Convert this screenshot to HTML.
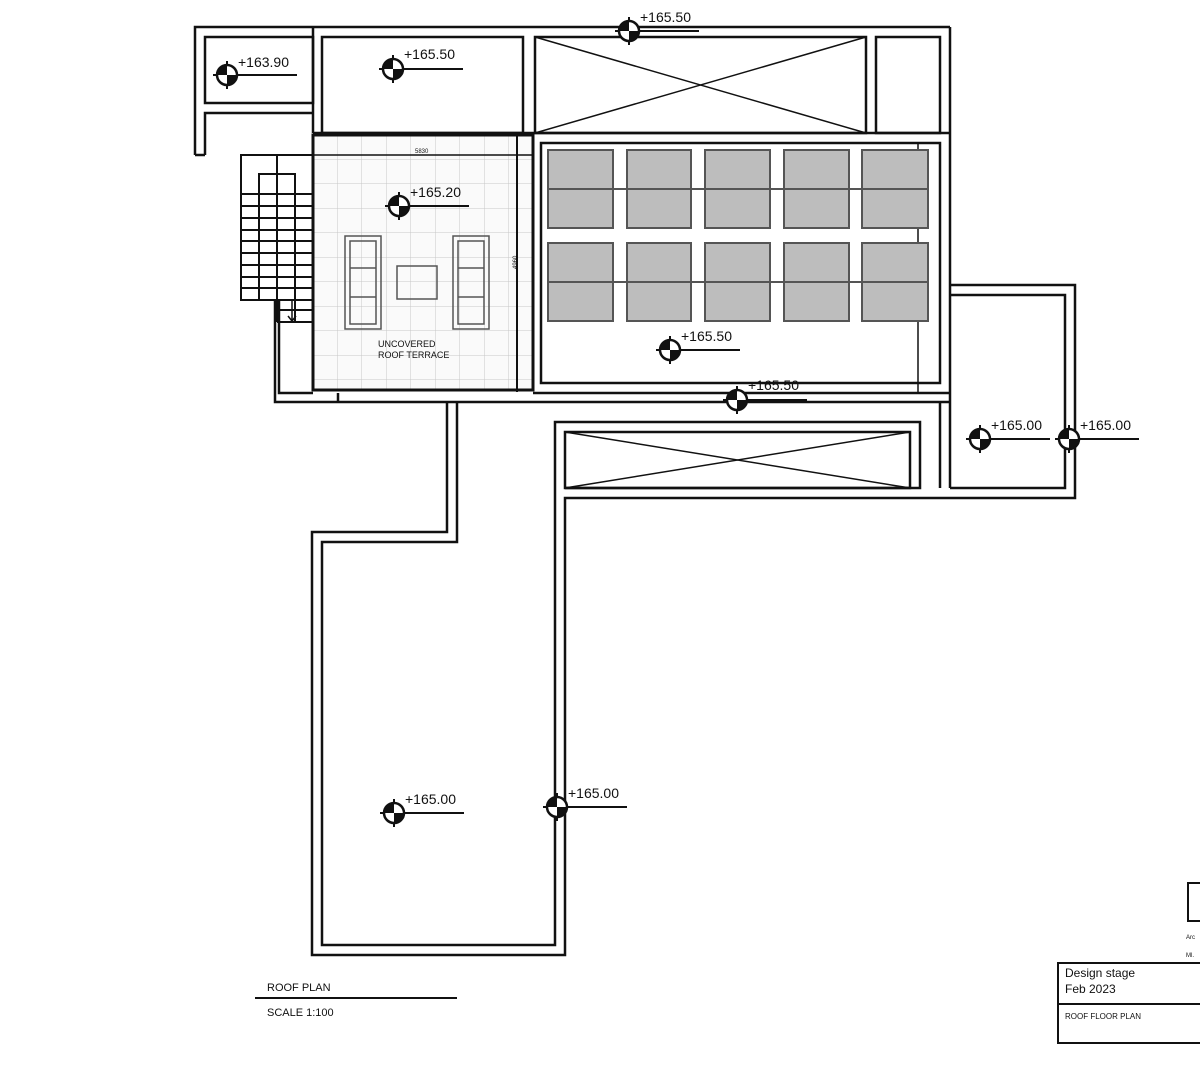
<!DOCTYPE html>
<html><head><meta charset="utf-8"><style>
html,body{margin:0;padding:0;background:#fff;}
svg{display:block;}
text{font-family:"Liberation Sans",sans-serif;fill:#111;}
</style></head><body>
<svg width="1200" height="1074" viewBox="0 0 1200 1074" xmlns="http://www.w3.org/2000/svg">
<defs>
<pattern id="tile" x="313" y="135" width="24.5" height="24.5" patternUnits="userSpaceOnUse">
<rect width="24.5" height="24.5" fill="#fafafa"/>
<path d="M24.5 0V24.5M0 24.5H24.5" stroke="#c8c8c8" stroke-width="1"/>
</pattern>
<g id="lv">
<line x1="-14" y1="0" x2="70" y2="0" stroke="#111" stroke-width="2"/>
<line x1="0" y1="-14" x2="0" y2="14" stroke="#111" stroke-width="2"/>
<circle r="10" fill="#fff" stroke="#111" stroke-width="2.5"/>
<path d="M0 0L-10 0A10 10 0 0 1 0 -10Z" fill="#111"/>
<path d="M0 0L10 0A10 10 0 0 1 0 10Z" fill="#111"/>
</g>
</defs>
<g fill="none" stroke="#111" stroke-width="2.5">
<!-- top-left small box -->
<path d="M195 155V27H950"/>
<path d="M205 155V113H313"/>
<path d="M205 155H195"/>
<rect x="205" y="37" width="108" height="66"/>
<line x1="313" y1="27" x2="313" y2="133"/>
<!-- top rooms -->
<rect x="322" y="37" width="201" height="96"/>
<rect x="535" y="37" width="331" height="96"/>
<path d="M535 37L866 133M866 37L535 133" stroke-width="1.5"/>
<rect x="876" y="37" width="64" height="96"/>
<line x1="950" y1="27" x2="950" y2="488"/>
<line x1="313" y1="133" x2="950" y2="133"/>
</g>
<!-- terrace -->
<rect x="313" y="135" width="220" height="255" fill="url(#tile)"/>
<g fill="none" stroke="#111">
<rect x="313" y="135" width="220" height="255" stroke-width="3"/>
<line x1="313" y1="155" x2="533" y2="155" stroke-width="1.5"/>
<line x1="517" y1="135" x2="517" y2="392" stroke-width="2"/>
<rect x="345" y="236" width="36" height="93" stroke="#555" stroke-width="1.5"/>
<rect x="350" y="241" width="26" height="83" stroke="#555" stroke-width="1.5"/>
<path d="M350 268H376M350 297H376" stroke="#555" stroke-width="1.5"/>
<rect x="453" y="236" width="36" height="93" stroke="#555" stroke-width="1.5"/>
<rect x="458" y="241" width="26" height="83" stroke="#555" stroke-width="1.5"/>
<path d="M458 268H484M458 297H484" stroke="#555" stroke-width="1.5"/>
<rect x="397" y="266" width="40" height="33" stroke="#555" stroke-width="1.5"/>
</g>
<text x="415" y="153" font-size="6" fill="#444">5830</text>
<text x="508" y="270" font-size="6" fill="#444" transform="rotate(-90 512 265)">4960</text>
<text x="378" y="347" font-size="9" fill="#333">UNCOVERED</text>
<text x="378" y="358" font-size="9" fill="#333">ROOF TERRACE</text>
<!-- stairs -->
<g fill="none" stroke="#111" stroke-width="2">
<rect x="241" y="155" width="72" height="145"/>
<line x1="277" y1="155" x2="277" y2="322"/>
<rect x="259" y="174" width="36" height="20"/>
<path d="M259 194V300M295 194V322"/>
<path d="M241 194H313M241 206H313M241 218H313M241 230H313M241 241H313M241 253H313M241 265H313M241 277H313M241 288H313M277 300H313M277 310H313M277 322H313"/>
<path d="M292 300V320M288 316L292 321L296 316" stroke-width="1.5"/>
</g>
<!-- solar area -->
<g fill="none" stroke="#111" stroke-width="2.5">
<rect x="541" y="143" width="399" height="240"/>
<path d="M533 393H950"/>
<path d="M275 300V402H950"/>
<path d="M279 300V393H313"/>
<path d="M338 393V402"/>
<line x1="918" y1="143" x2="918" y2="393" stroke-width="1.5"/>
</g>
<g fill="#bdbdbd" stroke="#555" stroke-width="2">
<rect x="548" y="150" width="65" height="78"/><rect x="627" y="150" width="64" height="78"/><rect x="705" y="150" width="65" height="78"/><rect x="784" y="150" width="65" height="78"/><rect x="862" y="150" width="66" height="78"/>
<rect x="548" y="243" width="65" height="78"/><rect x="627" y="243" width="64" height="78"/><rect x="705" y="243" width="65" height="78"/><rect x="784" y="243" width="65" height="78"/><rect x="862" y="243" width="66" height="78"/>
</g>
<path d="M548 189H928M548 282H928" stroke="#555" stroke-width="2"/>
<!-- right extension & lower parts -->
<g fill="none" stroke="#111" stroke-width="2.5">
<path d="M950 285H1075V498H565V955H312V532H447V402"/>
<path d="M950 295H1065V488H950"/>
<path d="M457 402V542H322V945H555V422H920V488H565"/>
<path d="M940 402V488"/>
<rect x="565" y="432" width="345" height="56"/>
<path d="M565 432L910 488M910 432L565 488" stroke-width="1.5"/>
</g>
<!-- levels -->
<use href="#lv" x="227" y="75"/><text x="238" y="67" font-size="14">+163.90</text>
<use href="#lv" x="393" y="69"/><text x="404" y="59" font-size="14">+165.50</text>
<use href="#lv" x="629" y="31"/><text x="640" y="22" font-size="14">+165.50</text>
<use href="#lv" x="399" y="206"/><text x="410" y="197" font-size="14">+165.20</text>
<use href="#lv" x="670" y="350"/><text x="681" y="341" font-size="14">+165.50</text>
<use href="#lv" x="737" y="400"/><text x="748" y="390" font-size="14">+165.50</text>
<use href="#lv" x="980" y="439"/><text x="991" y="430" font-size="14">+165.00</text>
<use href="#lv" x="1069" y="439"/><text x="1080" y="430" font-size="14">+165.00</text>
<use href="#lv" x="394" y="813"/><text x="405" y="804" font-size="14">+165.00</text>
<use href="#lv" x="557" y="807"/><text x="568" y="798" font-size="14">+165.00</text>
<!-- captions -->
<text x="267" y="991" font-size="11">ROOF PLAN</text>
<line x1="255" y1="998" x2="457" y2="998" stroke="#111" stroke-width="2"/>
<text x="267" y="1016" font-size="11">SCALE 1:100</text>
<rect x="1058" y="963" width="150" height="80" fill="none" stroke="#111" stroke-width="2"/>
<line x1="1058" y1="1004" x2="1200" y2="1004" stroke="#111" stroke-width="2"/>
<text x="1065" y="977" font-size="12">Design stage</text>
<text x="1065" y="993" font-size="12">Feb 2023</text>
<text x="1065" y="1019" font-size="8">ROOF FLOOR PLAN</text>
<rect x="1188" y="883" width="20" height="38" fill="none" stroke="#111" stroke-width="2"/>
<text x="1186" y="939" font-size="6">Arc</text>
<text x="1186" y="957" font-size="6">Ml.</text>
</svg>
</body></html>
